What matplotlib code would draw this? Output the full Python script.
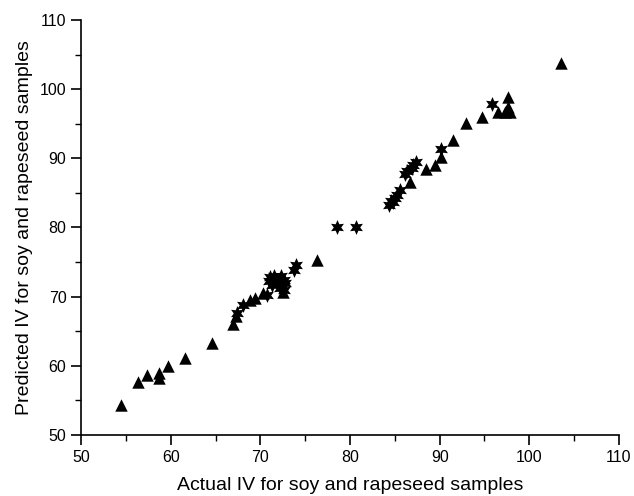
import matplotlib
matplotlib.use("Agg")
import matplotlib.pyplot as plt
from matplotlib.ticker import MultipleLocator

plt.rcParams['font.family'] = ['Liberation Sans', 'DejaVu Sans']

# triangles
tri_x = [54.5, 56.3, 57.4, 58.7, 58.7, 59.7, 61.6, 64.6, 67.0, 67.3, 68.8, 69.4,
         70.3, 72.5, 76.3, 86.7, 88.5, 89.5, 90.2, 91.5, 92.9, 94.7, 96.5, 97.3,
         97.6, 97.6, 97.8, 103.5]
tri_y = [54.3, 57.7, 58.7, 59.0, 58.2, 60.0, 61.1, 63.3, 66.1, 67.2, 69.5, 69.8,
         70.5, 70.7, 75.3, 86.6, 88.5, 89.0, 90.2, 92.6, 95.1, 96.0, 96.7, 96.7,
         98.9, 97.4, 96.7, 103.8]

# stars
star_x = [67.4, 68.1, 70.7, 71.1, 71.8, 71.3, 72.6, 72.6, 72.2, 71.5, 72.0, 72.8,
          71.0, 72.3, 73.7, 74.0, 78.6, 80.7, 84.4, 84.6, 84.8, 85.0, 85.2, 85.6,
          86.1, 86.4, 86.9, 87.0, 87.4, 90.2, 95.8]
star_y = [67.6, 68.8, 70.2, 72.9, 72.4, 71.7, 72.4, 71.0, 71.2, 73.0, 71.8, 72.0,
          72.2, 73.0, 73.8, 74.6, 80.0, 80.0, 83.2, 83.9, 83.7, 84.3, 84.7, 85.4,
          87.8, 88.2, 88.6, 89.0, 89.5, 91.4, 97.9]

fig = plt.figure(figsize=(6.34, 4.96), dpi=100)
ax = fig.add_axes([0.1278, 0.123, 0.8485, 0.8367])

ax.scatter(tri_x, tri_y, marker='^', s=80, color='black', linewidths=0, zorder=3)
ax.scatter(star_x, star_y, marker=(6, 1, 0), s=115, color='black', linewidths=0, zorder=3)

ax.set_xlim(50, 110)
ax.set_ylim(50, 110)
ax.xaxis.set_major_locator(MultipleLocator(10))
ax.xaxis.set_minor_locator(MultipleLocator(5))
ax.yaxis.set_major_locator(MultipleLocator(10))
ax.yaxis.set_minor_locator(MultipleLocator(5))

for s in ['top', 'right']:
    ax.spines[s].set_visible(False)
for s in ['left', 'bottom']:
    ax.spines[s].set_linewidth(1.2)

ax.tick_params(which='major', direction='out', length=7, width=1.2, labelsize=11.5)
ax.tick_params(which='minor', direction='out', length=4, width=1.0)

ax.set_xlabel('Actual IV for soy and rapeseed samples', fontsize=14, labelpad=9)
ax.set_ylabel('Predicted IV for soy and rapeseed samples', fontsize=14, labelpad=5)

fig.savefig('out.png', dpi=100)
